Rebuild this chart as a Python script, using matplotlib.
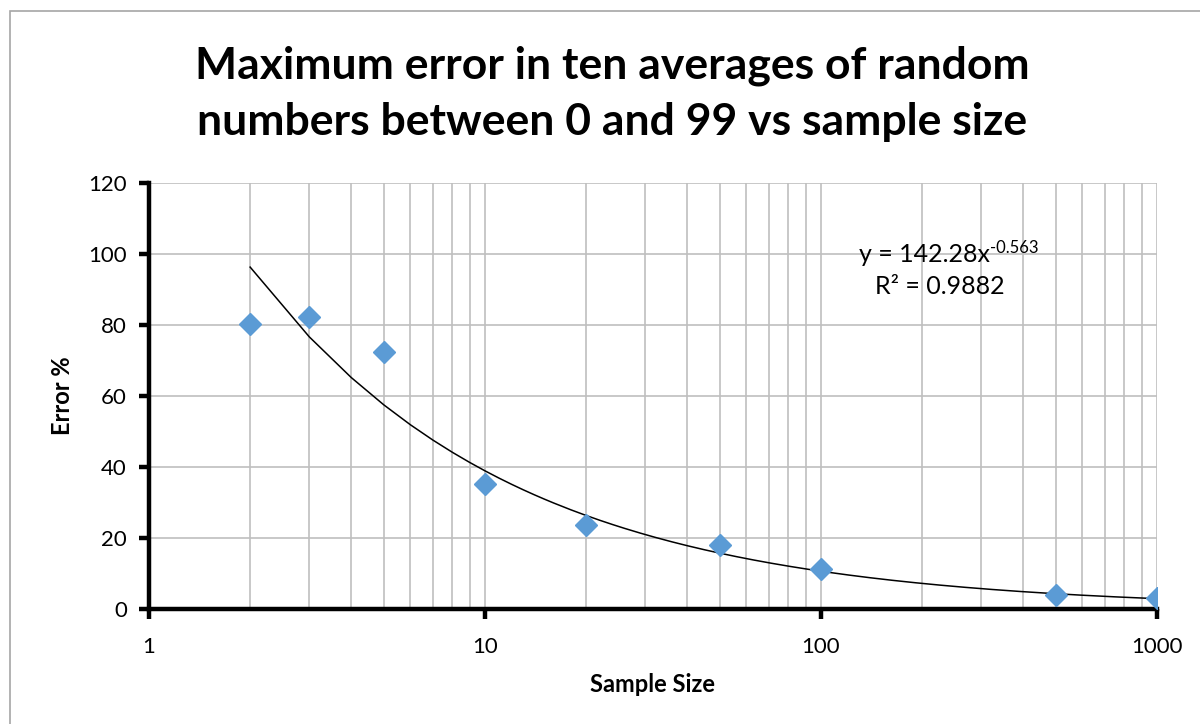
import numpy as np
import matplotlib
matplotlib.use('Agg')
import matplotlib.pyplot as plt
from matplotlib.patches import Rectangle
from matplotlib.ticker import LogLocator, NullFormatter, FixedLocator

# --------> Dados
sample_size = [2, 3, 5, 10, 20, 50, 100, 500, 1000]
error_pct = [80.2, 82.2, 72.3, 35.2, 23.7, 18.0, 11.3, 3.9, 3.1]

# Linha de tendência (potência) mostrada no gráfico
coef_a = 142.28
coef_b = -0.563
r2 = 0.9882

y_ticks = [0, 20, 40, 60, 80, 100, 120]
x_ticks = [1, 10, 100, 1000]

plt.rcParams['font.family'] = ['Lato', 'DejaVu Sans']

fig = plt.figure(figsize=(12, 7.24), dpi=100)
ax = fig.add_axes([149 / 1200, 1 - 609 / 724, 1008 / 1200, 426 / 724])

# borda da área do gráfico (só esquerda e topo aparecem)
fig.patches.append(Rectangle((10 / 1200, -0.5), 2.0, (724 - 11) / 724 + 0.5,
                             transform=fig.transFigure, fill=False,
                             edgecolor='#A6A6A6', linewidth=1.2))

# trendline
tx = np.arange(2, 1001)
ty = coef_a * tx ** coef_b
ax.plot(tx, ty, color='black', linewidth=1.1, zorder=3)

ax.plot(sample_size, error_pct, linestyle='none', marker='D', markersize=11,
        color='#5B9BD5', zorder=4)

ax.set_xscale('log')
ax.set_xlim(1, 1000)
ax.set_ylim(0, 120)
ax.xaxis.set_major_locator(FixedLocator(x_ticks))
ax.xaxis.set_minor_locator(LogLocator(base=10, subs=np.arange(2, 10)))
ax.xaxis.set_minor_formatter(NullFormatter())
ax.set_xticks(x_ticks)
ax.set_xticklabels([str(v) for v in x_ticks])
ax.set_yticks(y_ticks)
ax.set_yticklabels([str(v) for v in y_ticks])

ax.grid(True, which='major', color='#BFBFBF', linewidth=1.2)
ax.grid(True, which='minor', axis='x', color='#BFBFBF', linewidth=1.2)
ax.set_axisbelow(True)

for s in ['top', 'right']:
    ax.spines[s].set_visible(False)
for s in ['left', 'bottom']:
    ax.spines[s].set_linewidth(3.2)
    ax.spines[s].set_color('black')

ax.tick_params(axis='both', which='major', direction='out', length=7, width=3.2,
               labelsize=16, colors='black')
ax.tick_params(axis='x', which='minor', length=0)
ax.tick_params(axis='x', pad=13)
ax.tick_params(axis='y', pad=9)

ax.set_xlabel('Sample Size', fontsize=17, fontweight='bold', labelpad=12)
ax.set_ylabel('Error %', fontsize=17, fontweight='bold', labelpad=10)

fig.text(612 / 1200, 1 - 94 / 724,
         'Maximum error in ten averages of random\nnumbers between 0 and 99 vs sample size',
         ha='center', va='center', fontsize=32, fontweight='bold', linespacing=1.5)

# equação da tendência com expoente em sobrescrito
eq = ax.text(0.704, 0.831, 'y = %.2fx' % coef_a, transform=ax.transAxes,
             ha='left', va='center', fontsize=18)
ax.annotate('%.3f' % coef_b, xy=(1, 0.8), xycoords=eq, ha='left', va='center',
            fontsize=12)
ax.text(0.785, 0.756, 'R² = %.4f' % r2, transform=ax.transAxes,
        ha='center', va='center', fontsize=18)

fig.savefig('out.png', dpi=100)
